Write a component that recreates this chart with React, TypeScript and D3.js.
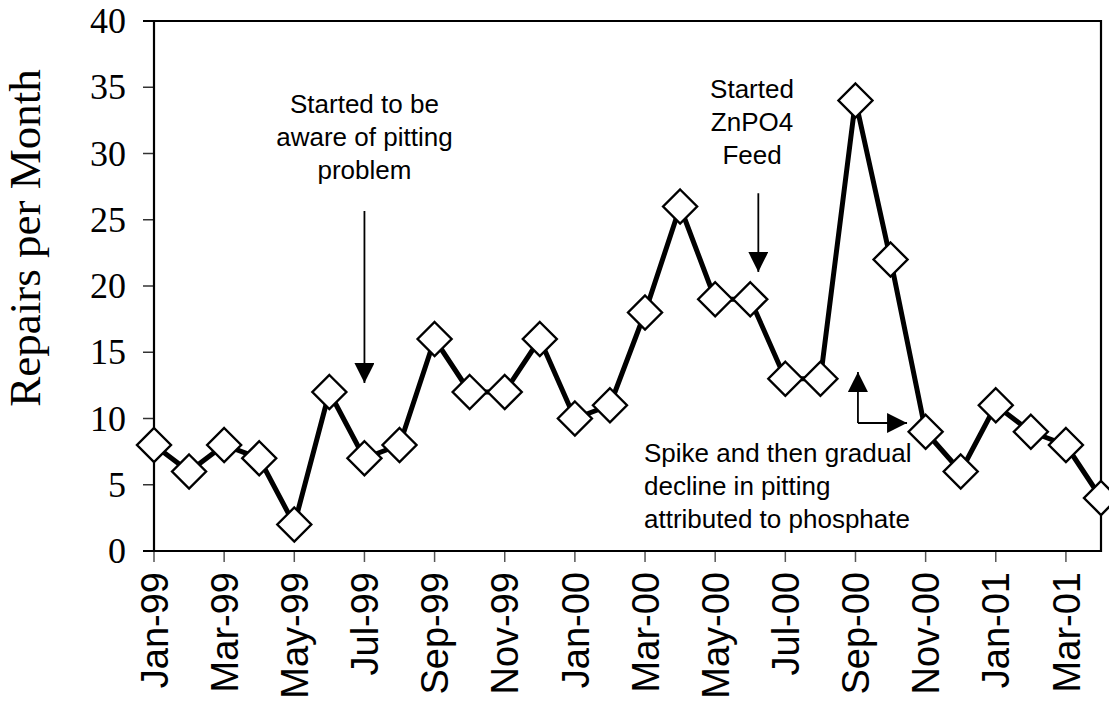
import { useEffect, useRef } from "react";
import * as d3 from "d3";

const months = [
  "Jan-99", "Feb-99", "Mar-99", "Apr-99", "May-99", "Jun-99", "Jul-99",
  "Aug-99", "Sep-99", "Oct-99", "Nov-99", "Dec-99", "Jan-00", "Feb-00",
  "Mar-00", "Apr-00", "May-00", "Jun-00", "Jul-00", "Aug-00", "Sep-00",
  "Oct-00", "Nov-00", "Dec-00", "Jan-01", "Feb-01", "Mar-01", "Apr-01",
];
const repairs = [
  8, 6, 8, 7, 2, 12, 7, 8, 16, 12, 12, 16, 10, 11,
  18, 26, 19, 19, 13, 13, 34, 22, 9, 6, 11, 9, 8, 4,
];
const yTicks = [0, 5, 10, 15, 20, 25, 30, 35, 40];

// annotation text, positions in data units (month index, repairs)
const noteAware = ["Started to be", "aware of pitting", "problem"];
const noteZn = ["Started", "ZnPO4", "Feed"];
const noteSpike = ["Spike and then gradual", "decline in pitting", "attributed to phosphate"];

const W = 1109;
const H = 702;
const serif = "'Liberation Serif', 'Times New Roman', serif";
const sans = "'Liberation Sans', Arial, sans-serif";

export default function App() {
  const ref = useRef<SVGSVGElement | null>(null);

  useEffect(() => {
    const svg = d3.select(ref.current!);
    svg.selectAll("*").remove();

    const x = d3.scaleLinear().domain([0, months.length - 1]).range([154, 1101]);
    const y = d3.scaleLinear().domain([0, 40]).range([551, 21]);
    const [x0, x1] = x.range();
    const [y0, y1] = y.range();

    const defs = svg.append("defs");
    defs
      .append("marker")
      .attr("id", "head")
      .attr("viewBox", "0 0 20 20")
      .attr("refX", 20)
      .attr("refY", 10)
      .attr("markerWidth", 20)
      .attr("markerHeight", 20)
      .attr("markerUnits", "userSpaceOnUse")
      .attr("orient", "auto")
      .append("path")
      .attr("d", "M0,0 L20,10 L0,20 Z")
      .attr("fill", "#000");

    // y ticks + labels
    const gy = svg.append("g");
    gy.selectAll("line")
      .data(yTicks)
      .join("line")
      .attr("x1", x0 - 11)
      .attr("x2", x0)
      .attr("y1", (d) => y(d))
      .attr("y2", (d) => y(d))
      .attr("stroke", "#333")
      .attr("stroke-width", 1.5);
    gy.selectAll("text")
      .data(yTicks)
      .join("text")
      .attr("x", x0 - 28)
      .attr("y", (d) => y(d) + 12)
      .attr("text-anchor", "end")
      .style("font", `36px ${serif}`)
      .style("fill", "#000")
      .text((d) => d);

    // x ticks + labels, every other month
    const shown = months.map((m, i) => ({ m, i })).filter((d) => d.i % 2 === 0);
    const gx = svg.append("g");
    gx.selectAll("line")
      .data(shown)
      .join("line")
      .attr("x1", (d) => x(d.i))
      .attr("x2", (d) => x(d.i))
      .attr("y1", y0)
      .attr("y2", y0 + 11)
      .attr("stroke", "#555")
      .attr("stroke-width", 1.5);
    gx.selectAll("text")
      .data(shown)
      .join("text")
      .attr("transform", (d) => `translate(${x(d.i)},572) rotate(-90)`)
      .attr("text-anchor", "end")
      .attr("dy", "0.36em")
      .style("font", `38px ${sans}`)
      .style("fill", "#000")
      .text((d) => d.m);

    // frame
    svg
      .append("path")
      .attr("d", `M${x0 - 11},${y1} H${x1} V${y0} H${x0 - 11} M${x0},${y1} V${y0}`)
      .attr("fill", "none")
      .attr("stroke", "#000")
      .attr("stroke-width", 2.2);

    // axis title
    svg
      .append("text")
      .attr("transform", `translate(40,238) rotate(-90)`)
      .attr("text-anchor", "middle")
      .style("font", `45px ${serif}`)
      .style("fill", "#000")
      .text("Repairs per Month");

    // series
    const line = d3
      .line<number>()
      .x((_, i) => x(i))
      .y((d) => y(d));
    svg
      .append("path")
      .datum(repairs)
      .attr("d", line)
      .attr("fill", "none")
      .attr("stroke", "#000")
      .attr("stroke-width", 5)
      .attr("stroke-linejoin", "round");

    const r = 17;
    svg
      .append("g")
      .selectAll("path")
      .data(repairs)
      .join("path")
      .attr("d", (d, i) => {
        const cx = x(i), cy = y(d);
        return `M${cx},${cy - r} L${cx + r},${cy} L${cx},${cy + r} L${cx - r},${cy} Z`;
      })
      .attr("fill", "#fff")
      .attr("stroke", "#000")
      .attr("stroke-width", 2.4);

    // annotations
    const note = (lines: string[], xi: number, yv: number, anchor: string) => {
      const t = svg
        .append("text")
        .attr("text-anchor", anchor)
        .style("font", `26px ${sans}`)
        .style("fill", "#000");
      lines.forEach((s, k) => {
        t.append("tspan").attr("x", x(xi)).attr("y", y(yv) + k * 33).text(s);
      });
    };
    note(noteAware, 6, 33.07, "middle");
    note(noteZn, 17.05, 34.19, "middle");
    note(noteSpike, 13.97, 6.72, "start");

    const arrow = (pts: [number, number][]) =>
      svg
        .append("path")
        .attr("d", d3.line()(pts.map(([a, b]) => [x(a), y(b)] as [number, number])))
        .attr("fill", "none")
        .attr("stroke", "#000")
        .attr("stroke-width", 1.8)
        .attr("marker-end", "url(#head)");
    arrow([[6, 25.66], [6, 12.68]]);
    arrow([[17.23, 27.0], [17.23, 21.06]]);
    arrow([[20.07, 9.66], [20.07, 13.51]]);
    arrow([[20.07, 9.66], [21.47, 9.66]]);
  }, []);

  return (
    <svg
      ref={ref}
      width={W}
      height={H}
      style={{ position: "absolute", left: 0, top: 0, background: "#fff" }}
    />
  );
}
